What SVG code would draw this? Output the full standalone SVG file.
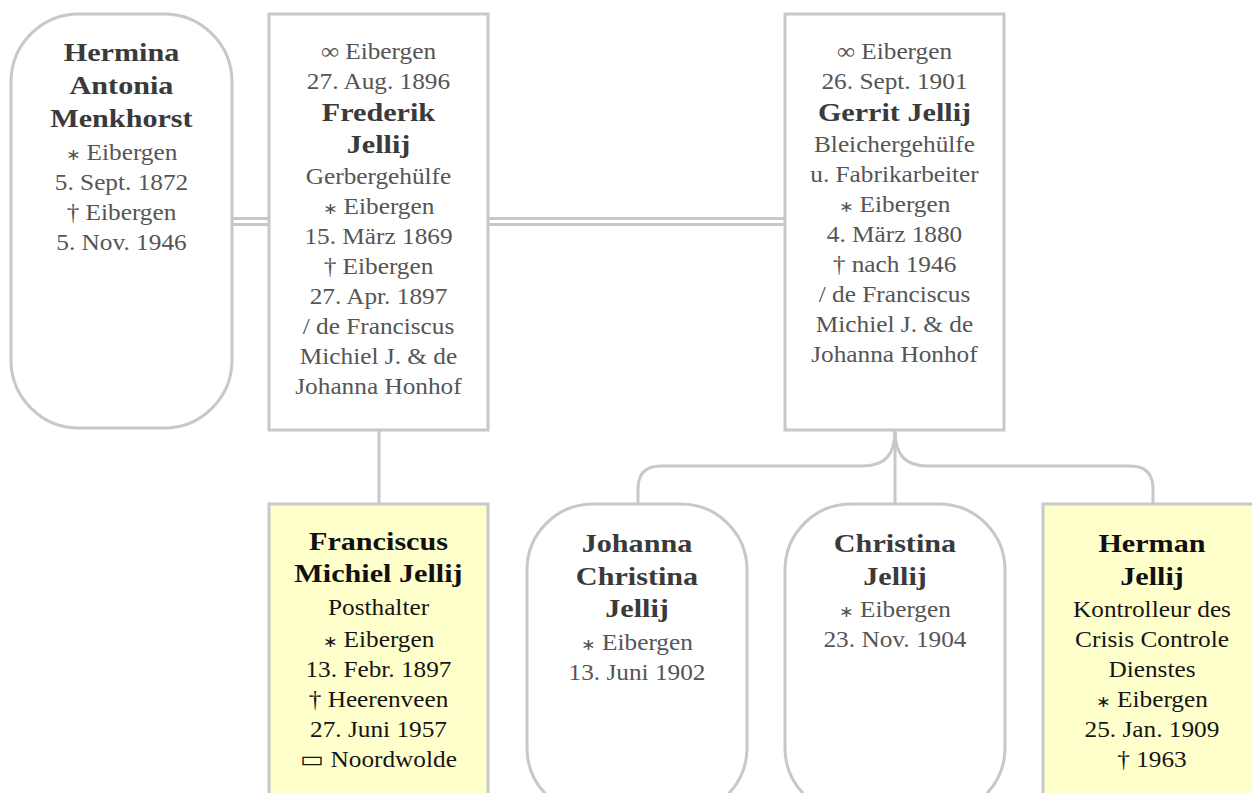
<svg xmlns="http://www.w3.org/2000/svg" width="1252" height="793" viewBox="0 0 1252 793">
<style>
.box{fill:#ffffff;stroke:#c8c8c8;stroke-width:3}
.hl{fill:#ffffcc;stroke:#c8c8c8;stroke-width:3}
.con{fill:none;stroke:#c8c8c8;stroke-width:3}
text{font-family:"Liberation Serif","Times New Roman",serif;text-anchor:middle;font-size:23px;fill:#555555;transform-box:fill-box;transform-origin:50% 50%;transform:scaleX(1.1)}
.n{font-weight:bold;font-size:26px;fill:#3a3a3a;transform:scaleX(1.16)}
.s{font-size:16px}
.k text{fill:#151515}
.k .n{fill:#111111}
</style>
<rect width="1252" height="793" fill="#ffffff"/>
<g id="connectors">
<line class="con" x1="232" y1="218.5" x2="269" y2="218.5"/>
<line class="con" x1="232" y1="224.5" x2="269" y2="224.5"/>
<line class="con" x1="488" y1="218.5" x2="785" y2="218.5"/>
<line class="con" x1="488" y1="224.5" x2="785" y2="224.5"/>
<line class="con" x1="379" y1="430" x2="379" y2="505"/>
<path class="con" d="M895 430 V505"/>
<path class="con" d="M895 430 C895 455 885 466 862 466 H661 Q638 466 638 489 V505"/>
<path class="con" d="M895 430 C895 455 905 466 928 466 H1130 Q1153 466 1153 489 V505"/>
</g>
<g id="hermina">
<rect class="box" x="11" y="14" width="221" height="414" rx="68" ry="68"/>
<text x="121.5" y="61" class="n">Hermina</text>
<text x="121.5" y="94" class="n">Antonia</text>
<text x="121.5" y="127" class="n">Menkhorst</text>
<text x="121.5" y="160"><tspan class="s">∗</tspan> Eibergen</text>
<text x="121.5" y="190">5. Sept. 1872</text>
<text x="121.5" y="220">† Eibergen</text>
<text x="121.5" y="250">5. Nov. 1946</text>
</g>
<g id="frederik">
<rect class="box" x="269" y="14" width="219" height="416"/>
<text x="378.5" y="59">∞ Eibergen</text>
<text x="378.5" y="89">27. Aug. 1896</text>
<text x="378.5" y="121" class="n">Frederik</text>
<text x="378.5" y="153" class="n">Jellij</text>
<text x="378.5" y="184">Gerbergehülfe</text>
<text x="378.5" y="214"><tspan class="s">∗</tspan> Eibergen</text>
<text x="378.5" y="244">15. März 1869</text>
<text x="378.5" y="274">† Eibergen</text>
<text x="378.5" y="304">27. Apr. 1897</text>
<text x="378.5" y="334">/ de Franciscus</text>
<text x="378.5" y="364">Michiel J. &amp; de</text>
<text x="378.5" y="394">Johanna Honhof</text>
</g>
<g id="gerrit">
<rect class="box" x="785" y="14" width="219" height="416"/>
<text x="894.5" y="59">∞ Eibergen</text>
<text x="894.5" y="89">26. Sept. 1901</text>
<text x="894.5" y="121" class="n">Gerrit Jellij</text>
<text x="894.5" y="152">Bleichergehülfe</text>
<text x="894.5" y="182">u. Fabrikarbeiter</text>
<text x="894.5" y="212"><tspan class="s">∗</tspan> Eibergen</text>
<text x="894.5" y="242">4. März 1880</text>
<text x="894.5" y="272">† nach 1946</text>
<text x="894.5" y="302">/ de Franciscus</text>
<text x="894.5" y="332">Michiel J. &amp; de</text>
<text x="894.5" y="362">Johanna Honhof</text>
</g>
<g id="franciscus" class="k">
<rect class="hl" x="269" y="504" width="219" height="320"/>
<text x="378.5" y="550" class="n">Franciscus</text>
<text x="378.5" y="582" class="n">Michiel Jellij</text>
<text x="378.5" y="615">Posthalter</text>
<text x="378.5" y="647"><tspan class="s">∗</tspan> Eibergen</text>
<text x="378.5" y="677">13. Febr. 1897</text>
<text x="378.5" y="707">† Heerenveen</text>
<text x="378.5" y="737">27. Juni 1957</text>
<text x="378.5" y="767">▭ Noordwolde</text>
</g>
<g id="johanna">
<rect class="box" x="527" y="504" width="220" height="310" rx="66" ry="66"/>
<text x="637" y="552" class="n">Johanna</text>
<text x="637" y="585" class="n">Christina</text>
<text x="637" y="617" class="n">Jellij</text>
<text x="637" y="650"><tspan class="s">∗</tspan> Eibergen</text>
<text x="637" y="680">13. Juni 1902</text>
</g>
<g id="christina">
<rect class="box" x="785" y="504" width="220" height="310" rx="66" ry="66"/>
<text x="895" y="552" class="n">Christina</text>
<text x="895" y="585" class="n">Jellij</text>
<text x="895" y="617"><tspan class="s">∗</tspan> Eibergen</text>
<text x="895" y="647">23. Nov. 1904</text>
</g>
<g id="herman" class="k">
<rect class="hl" x="1043" y="504" width="219" height="320"/>
<text x="1152" y="552" class="n">Herman</text>
<text x="1152" y="585" class="n">Jellij</text>
<text x="1152" y="617">Kontrolleur des</text>
<text x="1152" y="647">Crisis Controle</text>
<text x="1152" y="677">Dienstes</text>
<text x="1152" y="707"><tspan class="s">∗</tspan> Eibergen</text>
<text x="1152" y="737">25. Jan. 1909</text>
<text x="1152" y="767">† 1963</text>
</g>
</svg>
